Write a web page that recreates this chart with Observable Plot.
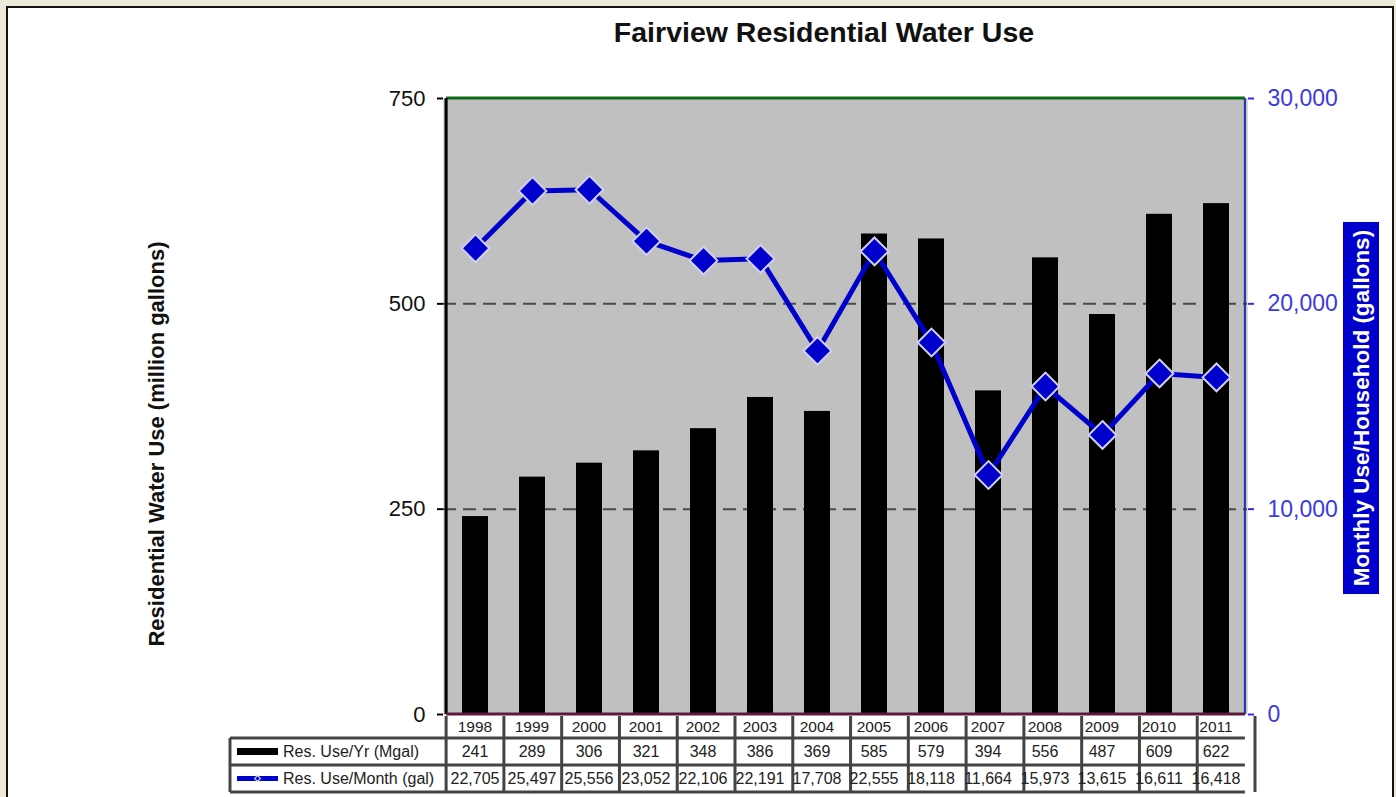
<!DOCTYPE html>
<html>
<head>
<meta charset="utf-8">
<script src="https://cdn.jsdelivr.net/npm/d3@7"></script>
<script src="https://cdn.jsdelivr.net/npm/@observablehq/plot@0.6"></script>
<style>
  html, body { margin: 0; padding: 0; background: #ECE9D8; width: 1396px; height: 797px; overflow: hidden; }
  #box { position: absolute; left: 6px; top: 6px; width: 1384px; height: 820px; border: 2px solid #111; background: #fff; }
  #chart { position: absolute; left: 0; top: 0; }
</style>
</head>
<body>
<div id="box"></div>
<div id="chart"></div>
<script>
// ---- data ----
const years = [1998, 1999, 2000, 2001, 2002, 2003, 2004, 2005, 2006, 2007, 2008, 2009, 2010, 2011];
const annualUse = [241, 289, 306, 321, 348, 386, 369, 585, 579, 394, 556, 487, 609, 622];
const monthlyUse = [22705, 25497, 25556, 23052, 22106, 22191, 17708, 22555, 18118, 11664, 15973, 13615, 16611, 16418];
const leftTicks = [0, 250, 500, 750];
const rightTicks = [0, 10000, 20000, 30000];
const title = "Fairview Residential Water Use";
const leftLabel = "Residential Water Use (million gallons)";
const rightLabel = "Monthly Use/Household (gallons)";
const seriesNames = ["Res. Use/Yr (Mgal)", "Res. Use/Month (gal)"];

const ratio = 30000 / 750;
const data = years.map((y, i) => ({ year: String(y), annual: annualUse[i], monthly: monthlyUse[i] }));
const fmt = d3.format(",");
const font = "'Liberation Sans', Arial, sans-serif";
const pad = 0.55;

const plot = Plot.plot({
  width: 1396,
  height: 797,
  marginLeft: 443,
  marginRight: 149,
  marginTop: 98,
  marginBottom: 83,
  style: { background: "transparent", fontFamily: font, overflow: "visible" },
  x: { type: "band", domain: years.map(String), paddingInner: pad, paddingOuter: pad / 2, axis: null },
  y: { domain: [0, 750], axis: null },
  marks: [
    Plot.frame({ fill: "#c0c0c0" }),
    Plot.ruleY([250, 500], { stroke: "#4a4a4a", strokeWidth: 2, strokeDasharray: "13,7" }),
    Plot.barY(data, { x: "year", y: "annual", fill: "#000" }),
    Plot.line(data, { x: "year", y: d => d.monthly / ratio, stroke: "#0000cc", strokeWidth: 5 }),
    Plot.dot(data, { x: "year", y: d => d.monthly / ratio, symbol: "diamond2", r: 12.5, fill: "#0000cc", stroke: "#d0d0f4", strokeWidth: 2 }),
    Plot.axisY(leftTicks, { anchor: "left", tickSize: 6, tickPadding: 12, fontSize: 22, stroke: "#000", strokeWidth: 2, fill: "#111", label: null }),
    Plot.axisY(rightTicks.map(d => d / ratio), { anchor: "right", tickSize: 6, tickPadding: 14, fontSize: 23, stroke: "#2f2fdd", strokeWidth: 2, fill: "#3a3ae0", tickFormat: d => fmt(d * ratio), label: null })
  ]
});
document.getElementById("chart").appendChild(plot);

// ---- extra decorations, positioned through Plot's own scales ----
const svg = d3.select(plot);
const xs = plot.scale("x");
const ys = plot.scale("y");
const bw = xs.bandwidth;
const step = bw / (1 - pad);
const cx = y => xs.apply(String(y)) + bw / 2;
const x0 = cx(years[0]) - step / 2;
const x1 = cx(years[years.length - 1]) + step / 2;
const yTop = ys.apply(750), yBot = ys.apply(0);

const g = svg.append("g").attr("font-family", font).attr("text-anchor", "start");

// plot area borders
g.append("line").attr("x1", x0).attr("x2", x1).attr("y1", yTop).attr("y2", yTop).attr("stroke", "#0b6b12").attr("stroke-width", 3);
g.append("line").attr("x1", x1).attr("x2", x1).attr("y1", yTop).attr("y2", yBot).attr("stroke", "#1f2fb8").attr("stroke-width", 2);
g.append("line").attr("x1", x0).attr("x2", x0).attr("y1", yTop).attr("y2", yBot).attr("stroke", "#000").attr("stroke-width", 3);
g.append("line").attr("x1", x0).attr("x2", x1).attr("y1", yBot).attr("y2", yBot).attr("stroke", "#5b1a3c").attr("stroke-width", 3);

// title
g.append("text").attr("x", 824).attr("y", 42).attr("text-anchor", "middle")
  .attr("font-size", 28.5).attr("font-weight", "bold").attr("fill", "#111").text(title);

// left axis title
g.append("text").attr("transform", "translate(156,444) rotate(-90)").attr("text-anchor", "middle").attr("dy", "0.35em")
  .attr("font-size", 22).attr("font-weight", "bold").attr("fill", "#111").text(leftLabel);

// right axis title (white on blue box)
g.append("rect").attr("x", 1343).attr("y", 222).attr("width", 36).attr("height", 372).attr("fill", "#0000cc");
g.append("text").attr("transform", "translate(1361,408) rotate(-90)").attr("text-anchor", "middle").attr("dy", "0.36em")
  .attr("font-size", 22.5).attr("font-weight", "bold").attr("fill", "#fff").text(rightLabel);

// data table
const rowLines = [738, 765, 792];
const labelLeft = 230;
const tstroke = "#444", tw = 3;
const t = g.append("g");
rowLines.forEach(yy => {
  t.append("line").attr("x1", labelLeft).attr("x2", x1).attr("y1", yy).attr("y2", yy).attr("stroke", tstroke).attr("stroke-width", tw);
});
for (let i = 0; i <= years.length; i++) {
  const xx = x0 + i * step;
  t.append("line").attr("x1", xx).attr("x2", xx).attr("y1", yBot + 2).attr("y2", 792).attr("stroke", tstroke).attr("stroke-width", tw);
}
t.append("line").attr("x1", labelLeft).attr("x2", labelLeft).attr("y1", 738).attr("y2", 792).attr("stroke", tstroke).attr("stroke-width", tw);

const rowY = [726, 751.5, 778.5];
years.forEach((yr, i) => {
  const xx = cx(yr);
  t.append("text").attr("x", xx).attr("y", rowY[0]).attr("dy", "0.36em").attr("text-anchor", "middle").attr("font-size", 15.5).attr("fill", "#222").text(String(yr));
  t.append("text").attr("x", xx).attr("y", rowY[1]).attr("dy", "0.36em").attr("text-anchor", "middle").attr("font-size", 16).attr("fill", "#222").text(fmt(annualUse[i]));
  t.append("text").attr("x", xx).attr("y", rowY[2]).attr("dy", "0.36em").attr("text-anchor", "middle").attr("font-size", 16).attr("fill", "#222").text(fmt(monthlyUse[i]));
});

// legend keys in table
t.append("rect").attr("x", 237).attr("y", rowY[1] - 3.5).attr("width", 41).attr("height", 7).attr("fill", "#000");
t.append("line").attr("x1", 237).attr("x2", 278).attr("y1", rowY[2]).attr("y2", rowY[2]).attr("stroke", "#0000cc").attr("stroke-width", 5);
t.append("path").attr("d", d3.symbol(d3.symbolDiamond2, 22)()).attr("transform", `translate(257.5,${rowY[2]})`)
  .attr("fill", "#0000cc").attr("stroke", "#d0d0f4").attr("stroke-width", 1.2);
t.append("text").attr("x", 283).attr("y", rowY[1]).attr("dy", "0.36em").attr("text-anchor", "start").attr("font-size", 16).attr("fill", "#222").text(seriesNames[0]);
t.append("text").attr("x", 283).attr("y", rowY[2]).attr("dy", "0.36em").attr("text-anchor", "start").attr("font-size", 16).attr("fill", "#222").text(seriesNames[1]);
</script>
</body>
</html>
